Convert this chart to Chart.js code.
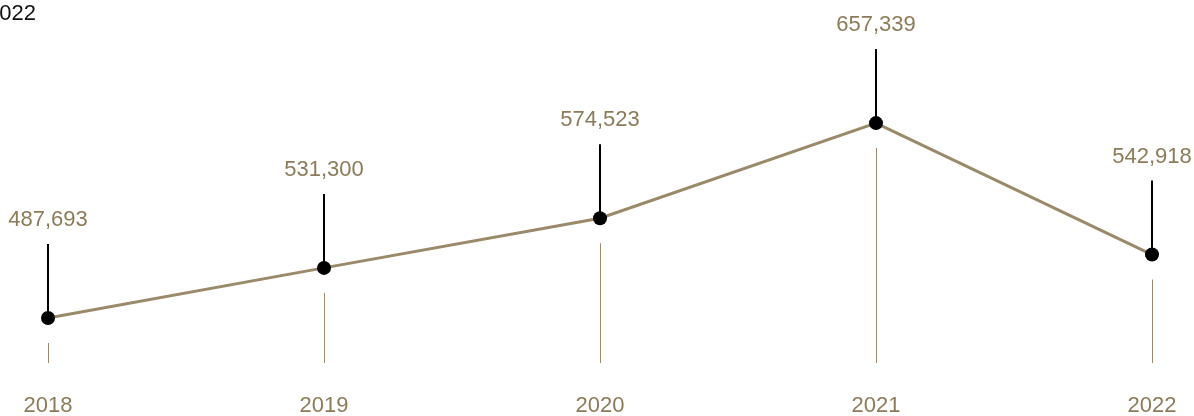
<!DOCTYPE html>
<html>
    <head>
        <meta charset="utf-8">
        <title>2018-2022</title>
        <script src="https://cdn.jsdelivr.net/npm/chart.js"></script>
        <style>
            body {
                margin: 0;
                background: #fff;
                overflow: hidden;
            }
            .wrap {
                position: relative;
                width: 1194px;
                height: 416px;
            }
            .head {
                position: absolute;
                top: 0px;
                left: -13px;
                font-family: "Liberation Sans", Arial, sans-serif;
                font-size: 22px;
                color: #111;
            }
        </style>
    </head>
    <body>
        <div class="wrap">
            <canvas id="lineChart" width="1194" height="416"></canvas>
            <div class="head">2022</div>
        </div>

        <script>
            // данные
            const years = ['2018', '2019', '2020', '2021', '2022'];
            const values = [487693, 531300, 574523, 657339, 542918];

            const tan = '#9a8a6a';
            const textTan = '#8c7b58';
            const fontFamily = '"Liberation Sans", Arial, sans-serif';

            // вертикальные линии и подписи значений
            const stemPlugin = {
                id: 'stems',
                afterDatasetsDraw(chart) {
                    const ctx = chart.ctx;
                    const meta = chart.getDatasetMeta(0);
                    const bottom = chart.chartArea.bottom;
                    ctx.save();
                    meta.data.forEach(function(pt, i) {
                        const x = Math.round(pt.x) + 0.5;
                        const y = pt.y;
                        // светлая линия вниз
                        ctx.strokeStyle = tan;
                        ctx.lineWidth = 1;
                        ctx.beginPath();
                        ctx.moveTo(x, y + 25);
                        ctx.lineTo(x, bottom);
                        ctx.stroke();
                        // чёрная линия вверх
                        ctx.strokeStyle = '#000';
                        ctx.lineWidth = 2;
                        ctx.beginPath();
                        ctx.moveTo(Math.round(pt.x), y);
                        ctx.lineTo(Math.round(pt.x), y - 74);
                        ctx.stroke();
                        // подпись
                        ctx.fillStyle = textTan;
                        ctx.font = '22px ' + fontFamily;
                        ctx.textAlign = 'center';
                        ctx.textBaseline = 'alphabetic';
                        ctx.fillText(values[i].toLocaleString('en-US'), pt.x, y - 92);
                    });
                    // точки поверх
                    meta.data.forEach(function(pt) {
                        ctx.fillStyle = '#000';
                        ctx.beginPath();
                        ctx.arc(pt.x, pt.y, 7, 0, Math.PI * 2);
                        ctx.fill();
                    });
                    ctx.restore();
                }
            };

            new Chart(document.getElementById('lineChart'), {
                type: 'line',
                data: {
                    labels: years,
                    datasets: [{
                        data: values,
                        borderColor: tan,
                        borderWidth: 3,
                        pointRadius: 0,
                        tension: 0
                    }]
                },
                options: {
                    responsive: false,
                    animation: false,
                    layout: {
                        padding: { left: 48, right: 42, top: 0, bottom: 0 }
                    },
                    plugins: {
                        legend: { display: false },
                        tooltip: { enabled: false }
                    },
                    scales: {
                        x: {
                            offset: false,
                            grid: { display: false, drawTicks: false },
                            border: { display: false },
                            afterFit: function(scale) {
                                scale.height = 53;
                                scale.paddingLeft = 0;
                                scale.paddingRight = 0;
                            },
                            ticks: {
                                color: textTan,
                                padding: 30,
                                maxRotation: 0,
                                font: { family: fontFamily, size: 22 }
                            }
                        },
                        y: {
                            display: false,
                            min: 448500,
                            max: 764500
                        }
                    }
                },
                plugins: [stemPlugin]
            });
        </script>
    </body>
</html>
